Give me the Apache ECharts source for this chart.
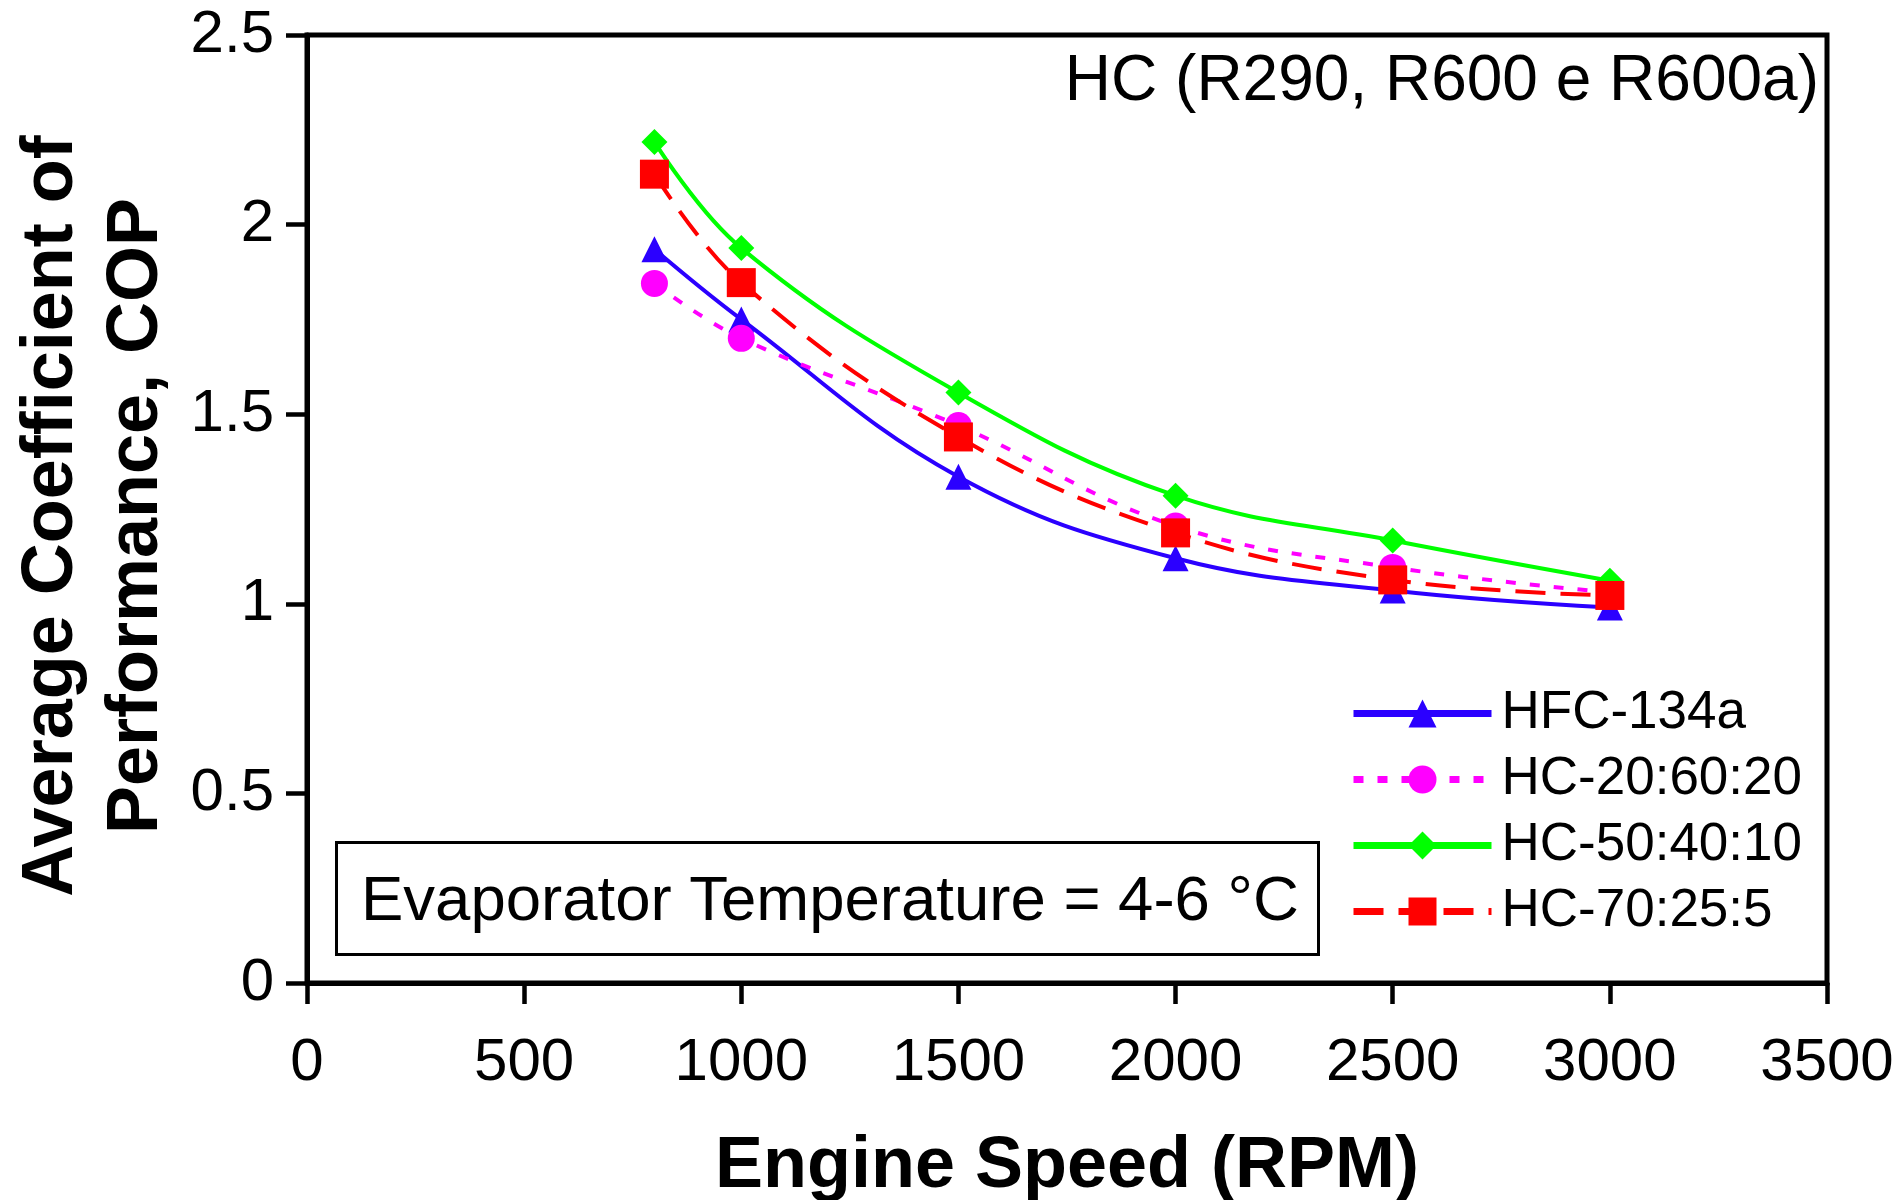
<!DOCTYPE html>
<html>
<head>
<meta charset="utf-8">
<title>Average COP vs Engine Speed</title>
<script src="https://cdn.jsdelivr.net/npm/echarts@6/dist/echarts.min.js"></script>
<style>
  html, body { margin: 0; padding: 0; background: #ffffff; }
  #chart { width: 1903px; height: 1200px; }
</style>
</head>
<body>
<div id="chart"></div>
<script>
// Engine speeds at which COP was measured (RPM)
const engineSpeed = [800, 1000, 1500, 2000, 2500, 3000];

// Average coefficient of performance per refrigerant
const copHFC134a   = [1.935, 1.75, 1.335, 1.12, 1.035, 0.99];
const copHC206020  = [1.845, 1.70, 1.47, 1.205, 1.096, 1.03];
const copHC504010  = [2.218, 1.938, 1.557, 1.285, 1.167, 1.061];
const copHC70255   = [2.133, 1.847, 1.44, 1.187, 1.063, 1.022];

const seriesNames = ['HFC-134a', 'HC-20:60:20', 'HC-50:40:10', 'HC-70:25:5'];

// Axis tick values
const xTickValues = [0, 500, 1000, 1500, 2000, 2500, 3000, 3500];
const yTickValues = [0, 0.5, 1, 1.5, 2, 2.5];

const FONT = "'Liberation Sans', Arial, Helvetica, sans-serif";

function pairs(ys) {
  return engineSpeed.map((x, i) => [x, ys[i]]);
}

const chart = echarts.init(document.getElementById('chart'), null, { renderer: 'canvas' });

const lineSeries = (name, values, color, symbol, size, dash) => ({
  name: name,
  type: 'line',
  data: pairs(values),
  smooth: 0.4,
  symbol: symbol,
  symbolSize: size,
  showAllSymbol: true,
  lineStyle: { color: color, width: 4, type: dash },
  itemStyle: { color: color, borderWidth: 0 },
  emphasis: { disabled: true },
  z: 3
});

chart.setOption({
  animation: false,
  backgroundColor: '#ffffff',
  textStyle: { fontFamily: FONT, color: '#000' },
  grid: {
    left: 307, right: 76, top: 35, bottom: 217,
    containLabel: false,
    outerBoundsMode: 'none',
    show: true, borderColor: '#000', borderWidth: 5, backgroundColor: 'transparent'
  },
  xAxis: {
    type: 'value',
    min: xTickValues[0],
    max: xTickValues[xTickValues.length - 1],
    interval: xTickValues[1] - xTickValues[0],
    name: 'Engine Speed (RPM)',
    nameLocation: 'middle',
    nameGap: 148,
    nameTextStyle: { fontFamily: FONT, fontSize: 72, fontWeight: 'bold', color: '#000', lineHeight: 72 },
    axisLine: { show: true, onZero: false, lineStyle: { color: '#000', width: 5 } },
    axisTick: { show: true, inside: false, length: 21, lineStyle: { color: '#000', width: 4.5 } },
    axisLabel: {
      show: true, margin: 50, fontFamily: FONT, fontSize: 60, color: '#000', lineHeight: 60,
      showMinLabel: true, showMaxLabel: true,
      formatter: v => String(v)
    },
    splitLine: { show: false }
  },
  yAxis: {
    type: 'value',
    min: yTickValues[0],
    max: yTickValues[yTickValues.length - 1],
    interval: yTickValues[1] - yTickValues[0],
    name: 'Average Coefficient of\nPerformance, COP',
    nameLocation: 'middle',
    nameGap: 105,
    nameTextStyle: {
      fontFamily: FONT, fontSize: 72, fontWeight: 'bold', color: '#000',
      lineHeight: 85, align: 'center', padding: [0, 14, 0, 0]
    },
    axisLine: { show: true, onZero: false, lineStyle: { color: '#000', width: 5 } },
    axisTick: { show: true, inside: false, length: 21, lineStyle: { color: '#000', width: 4.5 } },
    axisLabel: {
      show: true, margin: 33, fontFamily: FONT, fontSize: 60, color: '#000',
      showMinLabel: true, showMaxLabel: true,
      formatter: v => String(v)
    },
    splitLine: { show: false }
  },
  legend: {
    show: true,
    orient: 'vertical',
    left: 1350,
    top: 687,
    padding: 0,
    itemWidth: 138,
    itemHeight: 35,
    itemGap: 13,
    selectedMode: false,
    data: seriesNames,
    lineStyle: { width: 7 },
    textStyle: { fontFamily: FONT, fontSize: 53, color: '#000', padding: [0, 0, 0, 5] }
  },
  graphic: [
    {
      type: 'text',
      right: 1903 - 1819,
      top: 50,
      style: {
        text: 'HC (R290, R600 e R600a)',
        font: '64px ' + FONT,
        fill: '#000'
      },
      z: 10
    },
    {
      type: 'rect',
      left: 335,
      top: 841,
      shape: { width: 982, height: 112 },
      style: { fill: '#fff', stroke: '#000', lineWidth: 3 },
      z: 10
    },
    {
      type: 'text',
      left: 361,
      top: 870,
      style: {
        text: 'Evaporator Temperature = 4-6 \u00B0C',
        font: '63.5px ' + FONT,
        fill: '#000'
      },
      z: 11
    }
  ],
  series: [
    lineSeries(seriesNames[0], copHFC134a, '#2b00ff', 'triangle', 26, 'solid'),
    lineSeries(seriesNames[1], copHC206020, '#ff00ff', 'circle', 27, [10, 14]),
    lineSeries(seriesNames[2], copHC504010, '#00ff00', 'diamond', 26, 'solid'),
    lineSeries(seriesNames[3], copHC70255, '#ff0000', 'rect', 29, [30, 15])
  ]
});
</script>
</body>
</html>
